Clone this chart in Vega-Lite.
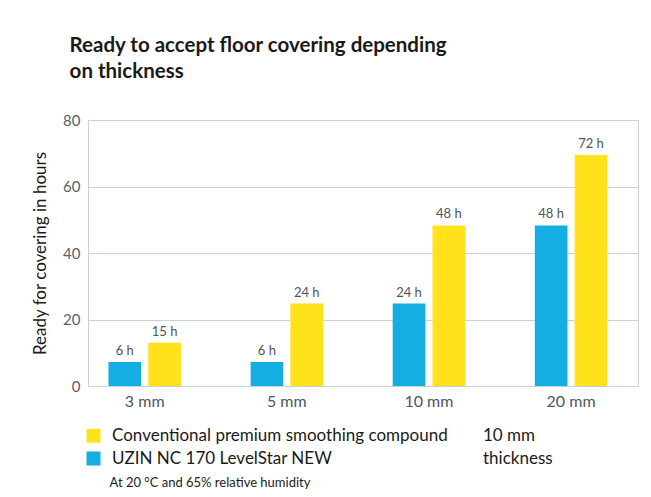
{
  "$schema": "https://vega.github.io/schema/vega-lite/v6.json",
  "width": 550,
  "height": 266,
  "padding": {"left": 31, "top": 35, "right": 13, "bottom": 5},
  "background": "white",
  "title": {
    "text": ["Ready to accept floor covering depending", "on thickness"],
    "anchor": "start",
    "frame": "bounds",
    "font": "Lato",
    "fontSize": 20.5,
    "fontWeight": "bold",
    "color": "#1a1a1a",
    "lineHeight": 26,
    "offset": 31,
    "dx": 38
  },
  "data": {
    "values": [
      {"thickness": "3 mm", "series": "UZIN NC 170 LevelStar NEW", "hours": 7.2, "label": "6 h"},
      {"thickness": "3 mm", "series": "Conventional premium smoothing compound", "hours": 13, "label": "15 h"},
      {"thickness": "5 mm", "series": "UZIN NC 170 LevelStar NEW", "hours": 7.2, "label": "6 h"},
      {"thickness": "5 mm", "series": "Conventional premium smoothing compound", "hours": 24.8, "label": "24 h"},
      {"thickness": "10 mm", "series": "UZIN NC 170 LevelStar NEW", "hours": 24.8, "label": "24 h"},
      {"thickness": "10 mm", "series": "Conventional premium smoothing compound", "hours": 48.3, "label": "48 h"},
      {"thickness": "20 mm", "series": "UZIN NC 170 LevelStar NEW", "hours": 48.3, "label": "48 h"},
      {"thickness": "20 mm", "series": "Conventional premium smoothing compound", "hours": 69.5, "label": "72 h"}
    ]
  },
  "encoding": {
    "x": {
      "field": "thickness",
      "type": "nominal",
      "sort": ["3 mm", "5 mm", "10 mm", "20 mm"],
      "scale": {"paddingInner": 0.49, "paddingOuter": 0.18, "align": 0.4},
      "axis": {
        "title": "At 20 °C and 65% relative humidity",
        "titleX": 21,
        "titleY": 100,
        "titleAlign": "left",
        "titleBaseline": "alphabetic",
        "titleFont": "Lato",
        "titleFontSize": 13,
        "titleFontWeight": "normal",
        "titleColor": "#222222",
        "labelAngle": 0,
        "labelFont": "Lato",
        "labelFontSize": 16,
        "labelColor": "#50565e",
        "labelPadding": 7,
        "ticks": false,
        "domain": false
      }
    },
    "xOffset": {
      "field": "series",
      "type": "nominal",
      "sort": ["UZIN NC 170 LevelStar NEW", "Conventional premium smoothing compound"],
      "scale": {"paddingInner": 0.18}
    },
    "y": {
      "field": "hours",
      "type": "quantitative",
      "scale": {"domain": [0, 80], "nice": false},
      "axis": {
        "title": "Ready for covering in hours",
        "titleFont": "Lato",
        "titleFontSize": 17,
        "titleFontWeight": "normal",
        "titleColor": "#1a1a1a",
        "titlePadding": 13,
        "values": [0, 20, 40, 60, 80],
        "labelFont": "Lato",
        "labelFontSize": 15,
        "labelColor": "#5b6068",
        "labelPadding": 8,
        "ticks": false,
        "domain": false,
        "grid": true,
        "gridColor": "#c9d0da",
        "gridWidth": 1
      }
    }
  },
  "layer": [
    {
      "mark": {"type": "bar"},
      "encoding": {
        "color": {
          "field": "series",
          "type": "nominal",
          "scale": {
            "domain": ["Conventional premium smoothing compound", "UZIN NC 170 LevelStar NEW", "10 mm", "thickness"],
            "range": ["#ffe21c", "#14ade4", "rgba(0,0,0,0)", "rgba(0,0,0,0)"]
          },
          "legend": {
            "orient": "none",
            "legendX": -3,
            "legendY": 307,
            "title": null,
            "columns": 2,
            "columnPadding": 8,
            "rowPadding": 5,
            "symbolType": "square",
            "symbolSize": 196,
            "symbolStrokeWidth": 0,
            "labelFont": "Lato",
            "labelFontSize": 17,
            "labelColor": "#1a1a1a",
            "labelOffset": 10,
            "labelLimit": 500
          }
        }
      }
    },
    {
      "mark": {"type": "text", "baseline": "bottom", "dy": -4, "font": "Lato", "fontSize": 13, "fontWeight": "normal", "color": "#4f545b"},
      "encoding": {
        "text": {"field": "label"}
      }
    }
  ],
  "config": {
    "view": {"stroke": "#c9d0da", "strokeWidth": 1}
  }
}
